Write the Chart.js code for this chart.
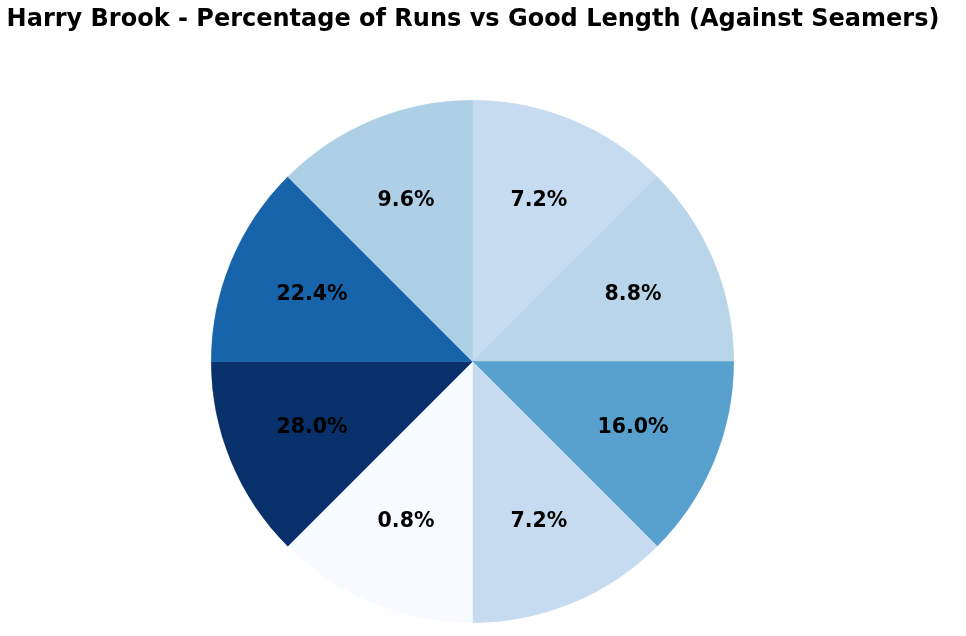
<!DOCTYPE html>
<html>
<head>
<meta charset="utf-8">
<script src="https://cdn.jsdelivr.net/npm/chart.js@4"></script>
<style>
  html, body { margin: 0; padding: 0; background: #fff; }
  #wrap { width: 966px; height: 636px; }
</style>
</head>
<body>
<div id="wrap"><canvas id="wheel"></canvas></div>
<script>
// zones go clockwise from the top, each one an equal share of the wheel
const zones = ["Zone 1", "Zone 2", "Zone 3", "Zone 4", "Zone 5", "Zone 6", "Zone 7", "Zone 8"];
const zoneWeights = [1, 1, 1, 1, 1, 1, 1, 1];
const runPercent = [7.2, 8.8, 16.0, 7.2, 0.8, 28.0, 22.4, 9.6];
const zoneColors = ["#c6dbef", "#b8d5ea", "#58a1cf", "#c6dbef", "#f7fbff", "#08306b", "#1764ab", "#add0e6"];

const titleText = "Harry Brook - Percentage of Runs vs Good Length (Against Seamers)";

// draw the percentage inside each slice + the title
const labelPlugin = {
  id: "pctLabels",
  afterDatasetsDraw(chart) {
    const ctx = chart.ctx;
    const meta = chart.getDatasetMeta(0);
    ctx.save();
    ctx.font = "bold 20.5px 'DejaVu Sans'";
    ctx.fillStyle = "#000";
    ctx.textAlign = "center";
    ctx.textBaseline = "middle";
    meta.data.forEach((arc, i) => {
      const mid = (arc.startAngle + arc.endAngle) / 2;
      const r = arc.outerRadius * 0.665;
      ctx.fillText(runPercent[i].toFixed(1) + "%", arc.x + Math.cos(mid) * r, arc.y + Math.sin(mid) * r);
    });
    ctx.font = "bold 24px 'DejaVu Sans'";
    ctx.fillText(titleText, 473, 20);
    ctx.restore();
  }
};

new Chart(document.getElementById("wheel"), {
  type: "pie",
  data: {
    labels: zones,
    datasets: [{
      data: zoneWeights,
      backgroundColor: zoneColors,
      borderColor: zoneColors,
      borderWidth: 0.5
    }]
  },
  options: {
    responsive: true,
    maintainAspectRatio: false,
    animation: false,
    layout: { padding: { top: 100, bottom: 13, left: 211, right: 232 } },
    plugins: {
      legend: { display: false },
      tooltip: { enabled: false },
      title: { display: false }
    }
  },
  plugins: [labelPlugin]
});
</script>
</body>
</html>
